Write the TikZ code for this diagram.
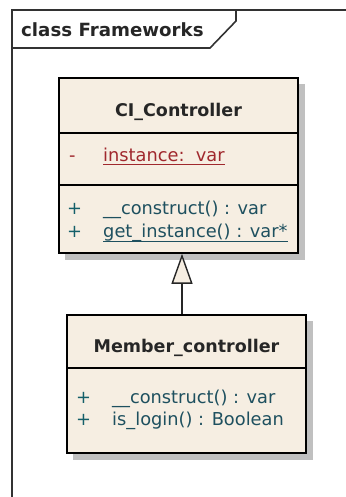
\documentclass[tikz,border=0pt]{standalone}
\usepackage{fontspec}
\setmainfont{DejaVu Sans}
\usetikzlibrary{arrows.meta,calc}
\definecolor{boxfill}{RGB}{246,238,226}
\definecolor{shadowc}{RGB}{192,192,192}
\definecolor{framec}{RGB}{50,50,50}
\definecolor{attrred}{RGB}{160,40,45}
\definecolor{methc}{RGB}{30,80,95}
\definecolor{plusc}{RGB}{20,95,105}
\tikzset{
  classbox/.style={draw=black, line width=1.6pt, fill=boxfill, inner sep=0pt},
  shadowbox/.style={fill=shadowc, draw=none},
  titletext/.style={font=\fontsize{17.5}{20}\selectfont\bfseries, text=black!85, anchor=base, inner sep=0pt},
  membertext/.style={font=\fontsize{17.8}{20}\selectfont, anchor=base west, inner sep=0pt},
  frametext/.style={font=\fontsize{18.2}{20}\selectfont\bfseries, text=black!85, anchor=base west, inner sep=0pt},
  sep/.style={draw=black, line width=1.6pt},
  uline/.style={line width=1.2pt},
  gen/.style={draw=black!85, line width=1.4pt, -{Triangle[length=30pt,width=21pt,fill=boxfill]}}
}
\begin{document}
\begin{tikzpicture}[x=1pt,y=-1pt]
\useasboundingbox (0,0) rectangle (345,497);
% frame
\draw[framec, line width=1.6pt] (12,505) -- (12,10) -- (355,10);
\draw[framec, line width=1.6pt] (12,48) -- (210,48) -- (236,21) -- (236,10);
\node[frametext] (ftitle) at (21,37) {class Frameworks};
% CI_Controller
\fill[shadowbox] (65,84) rectangle (305,260);
\node[classbox, minimum width=239pt, minimum height=175pt] (ci) at (178.5,165.5) {};
\draw[sep] (ci.west |- 0,133) -- (ci.east |- 0,133);
\draw[sep] (ci.west |- 0,185) -- (ci.east |- 0,185);
\node[titletext] (citl) at (178.5,117) {CI\_Controller};
\node[membertext, text=attrred] (m1) at (69,161) {-};
\node[membertext, text=attrred] (a1) at (103,161) {instance:~~var};
\draw[attrred, uline] ($(a1.base west)+(0,3.5)$) -- ($(a1.base east)+(0,3.5)$);
\node[membertext, text=plusc] (p1) at (67,214) {+};
\node[membertext, text=methc] (c1) at (103,214) {\_\_construct() : var};
\node[membertext, text=plusc] (p2) at (67,237) {+};
\node[membertext, text=methc] (c2) at (103,237) {get\_instance() : var*};
\draw[methc, uline] ($(c2.base west)+(0,4.5)$) -- ($(c2.base east)+(0,4.5)$);
% Member_controller
\fill[shadowbox] (73,321) rectangle (313,460);
\node[classbox, minimum width=239pt, minimum height=138pt] (mc) at (186.5,384) {};
\draw[sep] (mc.west |- 0,368) -- (mc.east |- 0,368);
\node[titletext] (mctl) at (186.5,352) {Member\_controller};
\node[membertext, text=plusc] (p3) at (76,403) {+};
\node[membertext, text=methc] (c3) at (112,403) {\_\_construct() : var};
\node[membertext, text=plusc] (p4) at (76,425) {+};
\node[membertext, text=methc] (c4) at (112,425) {is\_login() : Boolean};
% generalization
\draw[gen] (mc.north -| 182,0) -- (ci.south -| 182,0);
\end{tikzpicture}
\end{document}
